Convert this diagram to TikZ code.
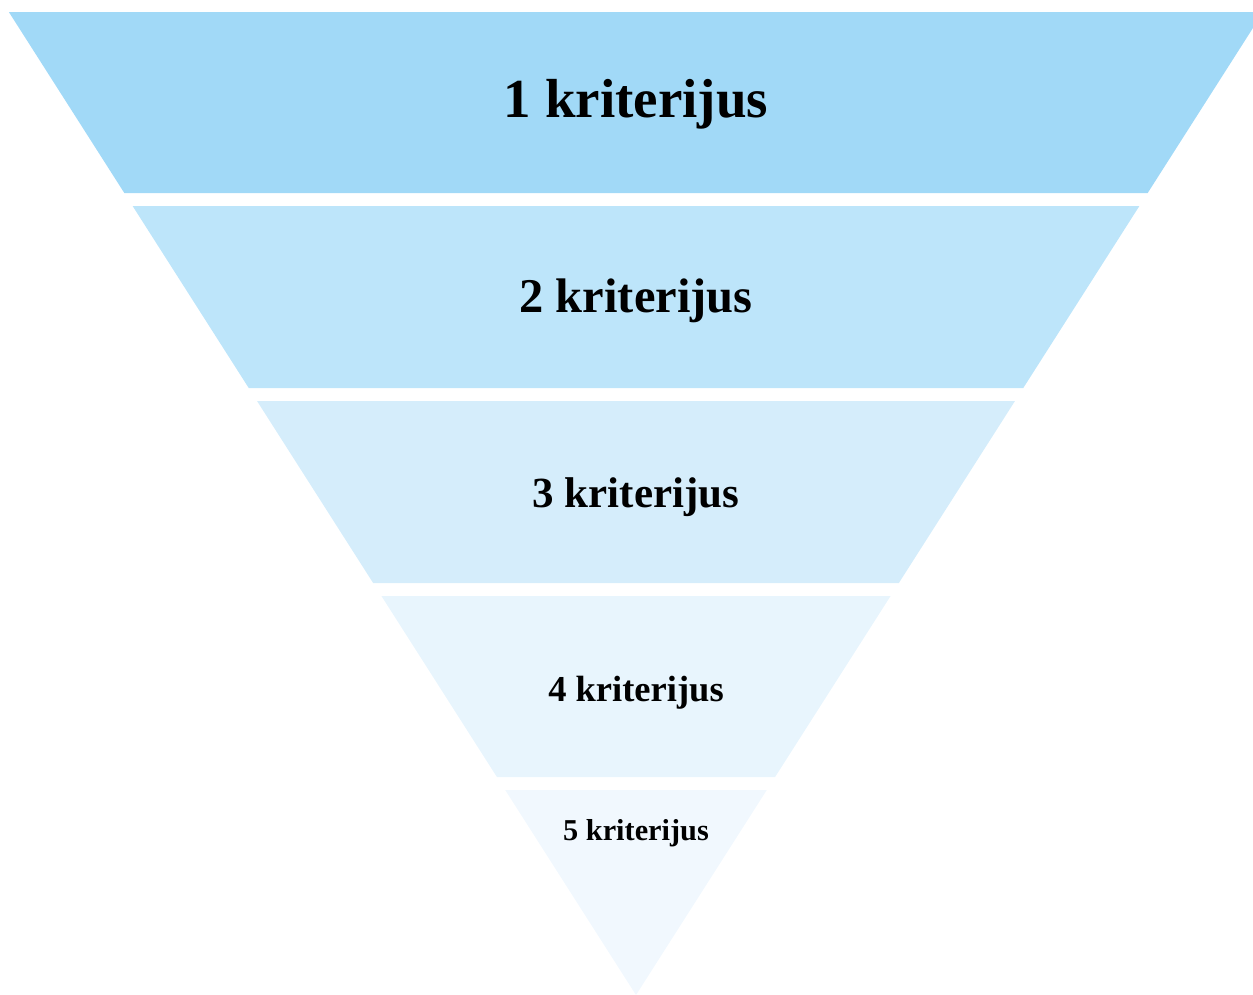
\documentclass[tikz,border=0pt]{standalone}
\usepackage{fontspec}
\setmainfont{Liberation Serif}
\usepackage{xcolor}
\usepackage{tikz}

\definecolor{bandA}{HTML}{A1D9F7}
\definecolor{bandB}{HTML}{BDE5FA}
\definecolor{bandC}{HTML}{D5EDFB}
\definecolor{bandD}{HTML}{E8F5FD}
\definecolor{bandE}{HTML}{F1F8FE}

\tikzset{
    labeltext/.style={font=\bfseries\fontsize{#1}{#1}\selectfont, anchor=base, inner sep=0pt}
}

\begin{document}
\begin{tikzpicture}[x=1pt,y=-1pt]
    % page frame, the top band runs past the right edge
    \clip (0,0) rectangle (1253,994);

    % funnel bands: upper y / lower y / colour, apex at (636,995)
    \foreach \ya/\yb/\col in {12/193/bandA, 206/388/bandB, 401/583/bandC, 596/777/bandD}{
        \fill[\col] ({636-(995-\ya)*0.638},\ya) -- ({636+(995-\ya)*0.638},\ya)
            -- ({636+(995-\yb)*0.638},\yb) -- ({636-(995-\yb)*0.638},\yb) -- cycle;
    }
    % last band ends in the tip
    \coordinate (tip) at (636,995);
    \fill[bandE] ({636-205*0.638},790) -- ({636+205*0.638},790) -- (tip) -- cycle;

    % labels, smaller towards the tip
    \node[labeltext=55] (k1) at (636,117) {1 kriterijus};
    \node[labeltext=48.5] (k2) at (636,312) {2 kriterijus};
    \node[labeltext=43] (k3) at (636,507) {3 kriterijus};
    \node[labeltext=36.5] (k4) at (636,701) {4 kriterijus};
    \node[labeltext=30.3] (k5) at (636,840) {5 kriterijus};
\end{tikzpicture}
\end{document}
